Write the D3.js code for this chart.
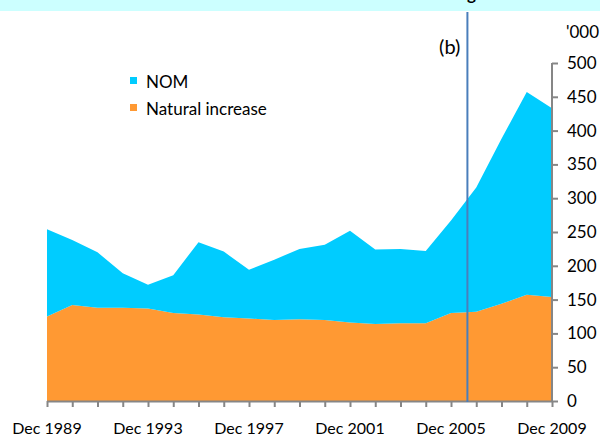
<!DOCTYPE html>
<html><head><meta charset="utf-8">
<script src="https://cdn.jsdelivr.net/npm/d3@7"></script>
<style>
html,body{margin:0;padding:0;background:#fff;}
svg{display:block;font-family:Lato, "Open Sans", sans-serif;}
</style></head>
<body><svg id="c" width="600" height="439"></svg>
<script>
const years = d3.range(1989, 2010);
const naturalIncrease = [125,142,138,138,137,130,128,124,122,120,121,120,116,114,115,115,130,132,144,157,154];
const totalGrowth = [254,238,220,189,172,186,235,221,194,209,225,231,252,224,225,222,267,316,388,457,433];
const nom = totalGrowth.map((t,i)=>t-naturalIncrease[i]);
const xTickLabels = ["Dec 1989","Dec 1993","Dec 1997","Dec 2001","Dec 2005","Dec 2009"];
const yTicks = [0,50,100,150,200,250,300,350,400,450,500];
const seriesNames = ["Natural increase","NOM"];
const seriesColors = ["#FF9933","#00CCFF"];
const breakPosition = 2005.65; // (b) marker, between Dec 2005 and Dec 2006

const svg = d3.select("#c");
const x = d3.scaleLinear().domain([1989,2009]).range([47,552]);
const y = d3.scaleLinear().domain([0,500]).range([401,63]);

// title band (cropped at top of picture)
svg.append("rect").attr("x",0).attr("y",0).attr("width",600).attr("height",11).attr("fill","#CCFFFF");
const title = svg.append("text").attr("y",0).attr("font-weight","bold").attr("font-size",17)
  .attr("fill","#000").text("Annual growth");
const idx = title.text().indexOf("growth");
const off = title.node().getSubStringLength(0, idx);
title.attr("x", 467 - off);

const rows = years.map((yr,i)=>({year:yr, "Natural increase":naturalIncrease[i], "NOM":nom[i]}));
const stack = d3.stack().keys(seriesNames)(rows);
const area = d3.area().x(d=>x(d.data.year)).y0(d=>y(d[0])).y1(d=>y(d[1]));
svg.selectAll("path.a").data(stack).join("path").attr("class","a")
  .attr("d",area).attr("fill",(d,i)=>seriesColors[i]);

// axes
const axisColor = "#868686";
const xAxis = d3.axisBottom(x).tickValues(years).tickSize(6).tickFormat("");
const gx = svg.append("g").attr("transform","translate(0,401)").call(xAxis);
gx.select(".domain").attr("stroke",axisColor).attr("stroke-width",2).attr("d","M47,0.5H552");
gx.selectAll(".tick line").attr("stroke",axisColor).attr("stroke-width",2);

const yAxis = d3.axisRight(y).tickValues(yTicks).tickSize(6).tickFormat("");
const gy = svg.append("g").attr("transform","translate(552,0)").call(yAxis);
gy.select(".domain").attr("stroke",axisColor).attr("stroke-width",2).attr("d","M0,63V402");
gy.selectAll(".tick line").attr("stroke",axisColor).attr("stroke-width",2);

// y labels
svg.selectAll("text.yl").data(yTicks).join("text").attr("class","yl")
  .attr("x",567).attr("y",d=>y(d)+6).attr("font-size",17).attr("fill","#000").text(d=>d);
// x labels
const labYears = [1989,1993,1997,2001,2005,2009];
svg.selectAll("text.xl").data(labYears).join("text").attr("class","xl")
  .attr("x",d=>x(d)).attr("y",434).attr("text-anchor","middle").attr("font-size",16).attr("fill","#000")
  .text((d,i)=>xTickLabels[i]);

svg.append("text").attr("x",566).attr("y",38).attr("font-size",17).attr("fill","#000").text("'000");

// break line
svg.append("line").attr("x1",x(breakPosition)).attr("x2",x(breakPosition)).attr("y1",12).attr("y2",402)
  .attr("stroke","#4A7EBB").attr("stroke-width",2);
svg.append("text").attr("x",x(breakPosition)-7).attr("y",54).attr("text-anchor","end")
  .attr("font-size",20).attr("fill","#000").text("(b)");

// legend
const legend = [{name:"NOM",color:"#00CCFF",y:77},{name:"Natural increase",color:"#FF9933",y:104}];
const lg = svg.selectAll("g.lg").data(legend).join("g").attr("class","lg");
lg.append("rect").attr("x",130).attr("y",d=>d.y).attr("width",7).attr("height",7).attr("fill",d=>d.color);
lg.append("text").attr("x",146).attr("y",d=>d.y+11).attr("font-size",17).attr("fill","#000").text(d=>d.name);
</script></body></html>
